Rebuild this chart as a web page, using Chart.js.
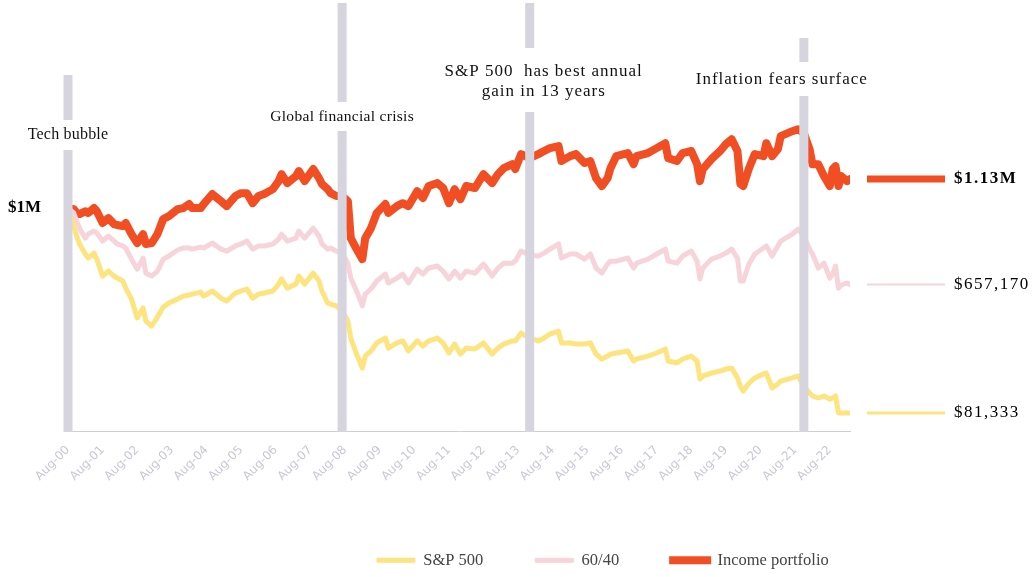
<!DOCTYPE html>
<html>
<head>
<meta charset="utf-8">
<script src="https://cdn.jsdelivr.net/npm/chart.js@4.4.1/dist/chart.umd.min.js"></script>
<style>
  html, body { margin: 0; padding: 0; background: #fff; }
  #wrap { width: 1035px; height: 577px; }
</style>
</head>
<body>
<div id="wrap"><canvas id="myChart"></canvas></div>
<script>
// months since Aug-2000
const months = [0,2,3,4,6,7,9,10,12,14,16,17,19,20,22,24,26,27,29,31,33,35,38,40,42,43,46,
  47,50,53,55,58,60,62,64,66,68,71,73,74,76,79,80,82,85,87,88,90,91,93,
  95,97,98,100,102,103,105,107,110,111,114,116,118,121,123,125,128,130,132,134,136,138,141,
  144,147,149,151,154,155,157,160,163,165,167,170,171,174,176,179,181,183,185,187,
  188,190,194,196,197,201,204,207,208,211,213,216,218,219,220,223,226,228,230,232,233,
  234,236,238,241,242,244,246,247,251,253,255,257,258,260,262,264,265,266,267,268,270,271];

// portfolio values, $ thousands
const sp500 = [1000,919,874,839,794,776,798,771,695,717,695,686,673,641,592,507,552,493,471,511,556,574,592,605,610,614,623,
  605,628,596,583,619,628,637,596,614,619,628,659,682,641,659,695,659,708,673,628,574,569,561,
  538,493,417,345,282,336,359,395,417,372,395,404,359,404,381,404,417,395,350,390,345,372,368,
  395,345,372,390,404,404,439,417,404,417,435,448,395,395,390,390,395,345,323,336,
  345,350,359,314,323,336,350,368,314,305,323,336,314,233,247,260,269,278,282,238,202,
  179,215,238,256,260,193,211,224,238,247,202,170,157,148,157,143,148,157,81,81,81,81];

const balanced = [1000,978,942,910,865,883,897,888,852,874,852,839,830,821,771,726,776,708,695,717,771,785,812,821,821,816,825,
  821,843,816,807,830,839,852,816,830,830,839,861,883,852,865,897,865,910,874,839,816,821,807,
  798,753,686,628,561,614,637,673,704,664,686,704,664,726,704,731,740,717,682,717,686,717,708,
  749,695,731,753,753,762,807,789,785,798,816,839,776,794,794,771,794,731,708,749,
  762,762,776,731,753,771,794,816,762,753,785,807,762,682,731,771,785,798,816,776,673,
  673,749,794,821,830,785,830,852,883,906,874,816,794,731,753,686,704,740,641,655,664,657];

const income = [1000,995,978,973,986,978,1000,986,933,955,928,924,919,933,883,843,883,839,843,883,951,964,995,1000,1018,1000,1000,
  1018,1063,1031,1009,1054,1067,1067,1022,1054,1063,1085,1121,1152,1112,1143,1166,1121,1175,1134,1108,1085,1067,1054,
  1054,1031,865,816,771,865,910,978,1018,978,1009,1022,1009,1076,1045,1099,1112,1090,1022,1085,1040,1099,1090,
  1152,1112,1152,1179,1197,1175,1242,1224,1242,1256,1269,1278,1211,1233,1242,1202,1211,1134,1099,1134,
  1179,1233,1247,1197,1233,1247,1269,1291,1224,1211,1247,1256,1197,1121,1175,1220,1256,1287,1309,1256,1108,
  1099,1179,1242,1233,1291,1233,1264,1323,1345,1354,1336,1264,1197,1197,1143,1099,1175,1188,1099,1143,1121,1130];

const seriesNames = ["S&P 500", "60/40", "Income portfolio"];
const endLabels = ["$81,333", "$657,170", "$1.13M"];

const tickMonths = [0,12,24,36,48,60,72,84,96,108,120,132,144,156,168,180,192,204,216,228,240,252,264];
const tickLabels = ["Aug-00","Aug-01","Aug-02","Aug-03","Aug-04","Aug-05","Aug-06","Aug-07","Aug-08","Aug-09","Aug-10","Aug-11",
  "Aug-12","Aug-13","Aug-14","Aug-15","Aug-16","Aug-17","Aug-18","Aug-19","Aug-20","Aug-21","Aug-22"];

const eventMonths = [0, 95, 160, 255];
const eventLabels = [["Tech bubble"], ["Global financial crisis"], ["S&P 500  has best annual", "gain in 13 years"], ["Inflation fears surface"]];

// styles
const colors = ["#fde47f", "#f7d4d9", "#f24e24"];
const lineWidths = [5, 5, 8];
const legendStroke = [1, 1, 4];
const endLineWidths = [3, 2, 7];
const eventStyle = [
  { top: 75, gapTop: 120, gapBottom: 150, dx: 0, lineY: [135], size: 16, spacing: "0.2px" },
  { top: 3, gapTop: 102, gapBottom: 131, dx: 0, lineY: [117], size: 15.5, spacing: "0.3px" },
  { top: 3, gapTop: 48, gapBottom: 112, dx: 14, lineY: [72, 92], size: 17, spacing: "1px" },
  { top: 38, gapTop: 62, gapBottom: 96, dx: -22, lineY: [80], size: 17, spacing: "1px" },
];

const values = [sp500, balanced, income];

const eventBars = {
  id: "eventBars",
  afterDatasetsDraw(chart) {
    const { ctx, chartArea, scales } = chart;
    ctx.save();
    eventMonths.forEach((m, i) => {
      const st = eventStyle[i];
      const px = scales.x.getPixelForValue(m);
      ctx.fillStyle = "#d6d5df";
      ctx.fillRect(px - 4.5, st.top, 9, st.gapTop - st.top);
      ctx.fillRect(px - 4.5, st.gapBottom, 9, chartArea.bottom + 1 - st.gapBottom);
      ctx.fillStyle = "#111";
      ctx.font = st.size + 'px "Liberation Serif"';
      ctx.textAlign = "center";
      ctx.textBaseline = "middle";
      ctx.letterSpacing = st.spacing;
      eventLabels[i].forEach((t, k) => ctx.fillText(t, px + st.dx, st.lineY[k]));
    });
    ctx.restore();
  },
};

const endMarks = {
  id: "endMarks",
  afterDatasetsDraw(chart) {
    const { ctx, chartArea } = chart;
    ctx.save();
    chart.data.datasets.forEach((ds, i) => {
      const pts = chart.getDatasetMeta(i).data;
      const y = pts[pts.length - 1].y;
      ctx.strokeStyle = ds.borderColor;
      ctx.lineWidth = endLineWidths[i];
      ctx.beginPath();
      ctx.moveTo(chartArea.right + 17, y);
      ctx.lineTo(chartArea.right + 95, y);
      ctx.stroke();
      ctx.fillStyle = "#000";
      ctx.font = (i === 2 ? "bold " : "") + '17px "Liberation Serif"';
      ctx.letterSpacing = "1.5px";
      ctx.textAlign = "left";
      ctx.textBaseline = "middle";
      ctx.fillText(endLabels[i], chartArea.right + 104, y);
    });
    ctx.restore();
  },
};

const legendPlace = {
  id: "legendPlace",
  afterUpdate(chart) {
    const lg = chart.legend;
    const pad = lg.options.labels.padding;
    lg.left = 377 - pad;
    lg.right = lg.left + lg.width;
    lg.top = 552 - pad;
    lg.bottom = lg.top + lg.height;
  },
};

let myCt = document.getElementById("myChart");
let myChart = new Chart(myCt, {
  type: "line",
  data: {
    datasets: seriesNames.map((name, i) => ({
      label: name,
      data: months.map((m, j) => ({ x: m, y: values[i][j] })),
      borderColor: colors[i],
      backgroundColor: colors[i],
      borderWidth: lineWidths[i],
      pointRadius: 0,
      tension: 0,
      borderJoinStyle: "round",
      borderCapStyle: "round",
    })),
  },
  options: {
    responsive: true,
    maintainAspectRatio: false,
    animation: false,
    layout: { padding: { top: 3, right: 185, bottom: 0, left: 0 } },
    plugins: {
      tooltip: { enabled: false },
      legend: {
        position: "bottom",
        align: "start",
        labels: {
          boxWidth: 38,
          boxHeight: 4,
          padding: 52,
          useBorderRadius: true,
          borderRadius: 2,
          color: "#444",
          font: { family: "Liberation Serif", size: 16.5 },
          generateLabels: (chart) =>
            chart.data.datasets.map((ds, i) => ({
              text: ds.label,
              fillStyle: ds.borderColor,
              strokeStyle: ds.borderColor,
              lineWidth: legendStroke[i],
              fontColor: "#444",
              hidden: false,
              datasetIndex: i,
            })),
        },
      },
    },
    scales: {
      x: {
        type: "linear",
        min: 0,
        max: 271,
        grid: { display: false, drawTicks: false },
        border: { color: "#cfcdd9", width: 1 },
        afterBuildTicks: (s) => { s.ticks = tickMonths.map((v) => ({ value: v })); },
        afterFit: (s) => {
          const lg = s.chart.legend;
          s.height = Math.max(0, s.chart.height - 431 - (lg && lg.height ? lg.height : 0));
          s.paddingLeft = 0;
          s.paddingRight = 0;
        },
        ticks: {
          autoSkip: false,
          minRotation: 45,
          maxRotation: 45,
          padding: 12,
          color: "#c9c7d4",
          font: { family: "DejaVu Sans", size: 12 },
          callback: (v, i) => tickLabels[i],
        },
      },
      y: {
        min: 0,
        max: 1920,
        grid: { display: false, drawTicks: false },
        border: { display: false },
        afterBuildTicks: (s) => { s.ticks = [{ value: 1000 }]; },
        afterFit: (s) => {
          s.width = 68;
          s.paddingTop = 0;
          s.paddingBottom = 0;
        },
        ticks: {
          padding: 27,
          color: "#000",
          font: { family: "Liberation Serif", size: 17, weight: "bold" },
          callback: (v) => "$" + v / 1000 + "M",
        },
      },
    },
  },
  plugins: [eventBars, endMarks, legendPlace],
});
</script>
</body>
</html>
